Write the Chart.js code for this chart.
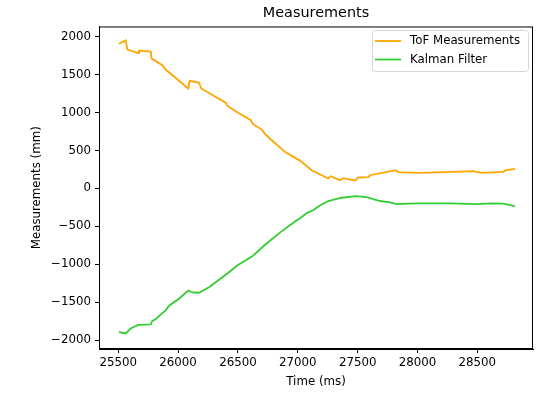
<!DOCTYPE html>
<html>
<head>
<meta charset="utf-8">
<script src="https://cdn.jsdelivr.net/npm/chart.js@4/dist/chart.umd.min.js"></script>
<style>
  html, body { margin: 0; padding: 0; background: #fff; }
  #wrap { width: 544px; height: 395px; }
</style>
</head>
<body>
<div id="wrap"><canvas id="myChart" width="544" height="395"></canvas></div>
<script>
const tofTime = [25506, 25562, 25575, 25665, 25673, 25771, 25779, 25868, 25896, 26085, 26096, 26174, 26193,
  26397, 26411, 26494, 26606, 26625, 26703, 26723, 26787, 26898, 27018, 27116, 27254, 27274, 27352, 27380,
  27477, 27505, 27589, 27603, 27820, 27839, 27993, 28243, 28466, 28536, 28716, 28739, 28814];
const tofValues = [1909, 1953, 1835, 1786, 1817, 1804, 1712, 1625, 1568, 1318, 1419, 1397, 1318,
  1131, 1092, 1004, 904, 847, 773, 721, 629, 476, 367, 240, 131, 161, 109, 135,
  105, 144, 148, 174, 240, 214, 204, 214, 227, 204, 218, 240, 257];

const kalmanTime = [25506, 25562, 25604, 25667, 25771, 25784, 25812, 25854, 25896, 25924, 26007, 26085, 26118,
  26174, 26258, 26314, 26425, 26494, 26620, 26717, 26759, 26870, 26982, 27018, 27079, 27129, 27177, 27254,
  27366, 27486, 27575, 27686, 27770, 27825, 27993, 28271, 28494, 28619, 28716, 28814];
const kalmanValues = [-1896, -1913, -1848, -1801, -1792, -1748, -1726, -1664, -1608, -1547, -1455, -1346, -1372,
  -1376, -1303, -1237, -1106, -1018, -896, -756, -700, -560, -429, -393, -320, -288, -232, -166,
  -123, -101, -114, -166, -183, -206, -197, -197, -206, -197, -201, -232];

const xTicks = [25500, 26000, 26500, 27000, 27500, 28000, 28500];
const yTicks = [-2000, -1500, -1000, -500, 0, 500, 1000, 1500, 2000];

const FONT = 'DejaVu Sans';
const minus = (v) => String(v).replace('-', '\u2212');

// top/right spines + legend box, drawn like matplotlib
const framePlugin = {
  id: 'frame',
  afterDraw(chart) {
    const { ctx, chartArea: a } = chart;
    ctx.save();
    ctx.strokeStyle = '#000';
    ctx.lineWidth = 1;
    ctx.strokeRect(a.left + 0.5, a.top + 0.5, a.right - a.left - 1, a.bottom - a.top - 1);

    // legend
    const x = 372, y = 30, w = 156, h = 41;
    ctx.fillStyle = 'rgba(255,255,255,0.8)';
    ctx.strokeStyle = '#d6d6d6';
    ctx.beginPath();
    ctx.roundRect(x + 0.5, y + 0.5, w, h, 3);
    ctx.fill();
    ctx.stroke();
    ctx.font = '11.8px "' + FONT + '"';
    ctx.textBaseline = 'middle';
    chart.data.datasets.forEach((ds, i) => {
      const ly = 41 + i * 18.5;
      ctx.strokeStyle = ds.borderColor;
      ctx.lineWidth = 1.8;
      ctx.beginPath();
      ctx.moveTo(375, ly);
      ctx.lineTo(401, ly);
      ctx.stroke();
      ctx.fillStyle = '#000';
      ctx.fillText(ds.label, 410, ly);
    });
    ctx.restore();
  }
};

const config = {
  type: 'line',
  data: {
    datasets: [
      {
        label: 'ToF Measurements',
        data: tofTime.map((t, i) => ({ x: t, y: tofValues[i] })),
        borderColor: '#FFA500',
        borderWidth: 1.8,
        pointRadius: 0,
        tension: 0,
      },
      {
        label: 'Kalman Filter',
        data: kalmanTime.map((t, i) => ({ x: t, y: kalmanValues[i] })),
        borderColor: '#32CD32',
        borderWidth: 1.8,
        pointRadius: 0,
        tension: 0,
      },
    ],
  },
  options: {
    responsive: false,
    animation: false,
    layout: { padding: { left: 0, right: 11, top: 0, bottom: 0 } },
    plugins: {
      legend: { display: false },
      tooltip: { enabled: false },
      title: {
        display: true,
        text: 'Measurements',
        fullSize: false,
        color: '#000',
        font: { family: FONT, size: 14.4, weight: 'normal' },
        padding: { top: 5, bottom: 4.2 },
      },
    },
    scales: {
      x: {
        type: 'linear',
        min: 25339,
        max: 28965,
        afterFit: (s) => { s.height = 46; },
        afterBuildTicks: (s) => { s.ticks = xTicks.map((v) => ({ value: v })); },
        grid: { drawOnChartArea: false, color: '#000', tickLength: 4 },
        border: { color: '#000', width: 1 },
        ticks: {
          color: '#000',
          padding: 3,
          maxRotation: 0,
          font: { family: FONT, size: 11.8 },
          callback: (v) => minus(v),
        },
        title: {
          display: true,
          text: 'Time (ms)',
          color: '#000',
          font: { family: FONT, size: 11.8 },
          padding: { top: 0, bottom: 6 },
        },
      },
      y: {
        min: -2118,
        max: 2136,
        afterFit: (s) => { s.width = 99; },
        afterBuildTicks: (s) => { s.ticks = yTicks.map((v) => ({ value: v })); },
        grid: { drawOnChartArea: false, color: '#000', tickLength: 4 },
        border: { color: '#000', width: 1 },
        ticks: {
          color: '#000',
          padding: 4,
          font: { family: FONT, size: 11.8 },
          callback: (v) => minus(v),
        },
        title: {
          display: true,
          text: 'Measurements (mm)',
          color: '#000',
          font: { family: FONT, size: 11.8 },
          padding: { top: 30, bottom: 0 },
        },
      },
    },
  },
  plugins: [framePlugin],
};

const ctx = document.getElementById('myChart').getContext('2d');
const myChart = new Chart(ctx, config);
</script>
</body>
</html>
